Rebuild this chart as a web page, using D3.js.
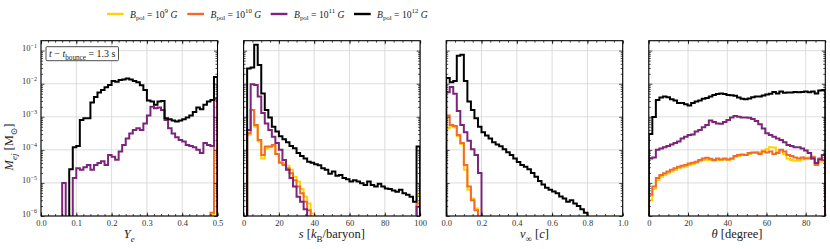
<!DOCTYPE html>
<html>
<head>
<meta charset="utf-8">
<script src="https://cdn.jsdelivr.net/npm/d3@7"></script>
<style>
  body { margin: 0; background: #fff; }
  text { font-family: "Liberation Serif", "DejaVu Serif", serif; }
</style>
</head>
<body>
<svg id="chart" width="830" height="249"></svg>
<script>
// histogram ranges (50 equal bins each)
var yeRange = [0, 0.5],
  sRange = [0, 100],
  vRange = [0, 1],
  thetaRange = [0, 90];

var seriesNames = ["9", "10", "11", "12"];
var seriesColors = ["#ffd200", "#f26b2c", "#7b2479", "#000000"];

// ---- Y_e ----
var yeB9 = [0,0,0,0,0,0,0,0,0,0, 0,0,0,0,0,0,0,0,0,0, 0,0,0,0,0,0,0,0,0,0,
  0,0,0,0,0,0,0,0,0,0, 0,0,0,0,0,0,0,0,1.05e-6,3.3e-3];
var yeB10 = [0,0,0,0,0,0,0,0,0,0, 0,0,0,0,0,0,0,0,0,0, 0,0,0,0,0,0,0,0,0,0,
  0,0,0,0,0,0,0,0,0,0, 0,0,0,0,0,0,0,0,1.25e-6,3.3e-3];
var yeB11 = [0,0,0,0,0,0,1e-5,0,0,1.4e-5, 2.8e-5,2.5e-5,3e-5,3.5e-5,2.5e-5,3.5e-5,4e-5,4.5e-5,3.5e-5,7e-5,
  6.2e-5,5e-5,9e-5,1.4e-4,2.2e-4,3.1e-4,4e-4,4.5e-4,4e-4,6.3e-4,
  1.1e-3,2e-3,1.8e-3,1.9e-3,1.6e-3,8e-4,4.5e-4,3.1e-4,2.4e-4,2e-4,
  1.8e-4,1.4e-4,1.3e-4,1.2e-4,1e-4,8e-5,1.6e-4,1.4e-4,1.3e-4,3.6e-3];
var yeB12 = [0,0,0,0,0,0,0,0,2.6e-5,1.2e-4, 1.3e-4,8e-4,9e-4,9e-4,2.7e-3,4e-3,5.4e-3,6.5e-3,7.8e-3,9.2e-3,
  1.2e-2,1.15e-2,1.3e-2,1.35e-2,1.45e-2,1.35e-2,1.2e-2,1.1e-2,9e-3,6.5e-3,
  3.1e-3,2.9e-3,2.3e-3,2.9e-3,3e-3,9e-4,8.4e-4,7.7e-4,7.2e-4,7.7e-4,
  8.4e-4,9.6e-4,1.1e-3,1.4e-3,1.9e-3,1.7e-3,2.3e-3,2.9e-3,3.2e-3,1.6e-2];

// ---- entropy ----
var sB9 = [0,2.8e-4,1.6e-3,5e-4,1.8e-4,5.5e-5,1.1e-4,1.2e-4,1.3e-4,7.5e-5,
  4.4e-5,3.9e-5,3.3e-5,2.5e-5,1.55e-5,1.1e-5,6.5e-6,3.8e-6,2.4e-6,1.2e-6,
  0,0,0,0,0,0,0,0,0,0, 0,0,0,0,0,0,0,0,0,0, 0,0,0,0,0,0,0,0,0,4.4e-6];
var sB10 = [0,3.2e-4,1.6e-3,5.6e-4,2e-4,7e-5,1.26e-4,1.26e-4,1.4e-4,7.5e-5,
  4.1e-5,3.5e-5,2.8e-5,1.95e-5,1.2e-5,7.8e-6,4.9e-6,2.7e-6,1.5e-6,0,
  0,0,0,0,0,0,0,0,0,0, 0,0,0,0,0,0,0,0,0,0, 0,0,0,0,0,0,0,0,0,2.4e-6];
var sB11 = [0,4e-4,9.6e-3,9.2e-3,4.1e-3,1.3e-3,6.3e-4,4e-4,2.5e-4,1.6e-4,
  1e-4,4.9e-5,2.5e-5,1.4e-5,7.8e-6,3.8e-6,2.7e-6,1.6e-6,0,0,
  0,0,0,0,0,0,0,0,0,0, 0,0,0,0,0,0,0,0,0,0, 0,0,0,0,0,0,0,0,0,1.9e-6];
var sB12 = [0,2.9e-2,3.1e-2,0.15,3.7e-2,5.1e-3,1.6e-3,9.5e-4,5e-4,3.6e-4,
  2.6e-4,2.1e-4,1.7e-4,1.3e-4,1.12e-4,8e-5,6.5e-5,5.5e-5,4.4e-5,4.1e-5,
  3.7e-5,3.4e-5,2.8e-5,2.5e-5,1.9e-5,2.2e-5,1.65e-5,1.75e-5,1.4e-5,1.3e-5,
  1.1e-5,1.2e-5,1.1e-5,9.8e-6,8.6e-6,1.1e-5,8.7e-6,7.8e-6,9.4e-6,7.8e-6,
  6.8e-6,6.5e-6,5.9e-6,5.4e-6,6.2e-6,4.9e-6,4.4e-6,3.8e-6,2.7e-6,1.26e-4];

// ---- asymptotic velocity ----
var vB9 = [4.5e-4,5e-4,4.8e-4,2.6e-4,1.5e-4,2.5e-5,6.2e-6,3.4e-6,1.7e-6,0,
  0,0,0,0,0,0,0,0,0,0, 0,0,0,0,0,0,0,0,0,0, 0,0,0,0,0,0,0,0,0,0, 0,0,0,0,0,0,0,0,0,0];
var vB10 = [1.1e-3,5.6e-4,5.3e-4,2.8e-4,1.6e-4,3.5e-5,7.8e-6,3e-6,1.5e-6,0,
  0,0,0,0,0,0,0,0,0,0, 0,0,0,0,0,0,0,0,0,0, 0,0,0,0,0,0,0,0,0,0, 0,0,0,0,0,0,0,0,0,0];
var vB11 = [5.5e-3,8e-3,5e-3,1.5e-3,5.6e-4,3.4e-4,1.9e-4,1.05e-4,7e-5,2e-5,
  0,0,0,0,0,0,0,0,0,0, 0,0,0,0,0,0,0,0,0,0, 0,0,0,0,0,0,0,0,0,0, 0,0,0,0,0,0,0,0,0,0];
var vB12 = [1.5e-2,1.1e-2,1.2e-2,7e-2,7.5e-2,1.2e-2,2.9e-3,1.6e-3,9e-4,5e-4,
  3.4e-4,2.7e-4,2.2e-4,1.7e-4,1.45e-4,1.28e-4,1.05e-4,8.5e-5,7e-5,5.5e-5,
  4.3e-5,3.5e-5,3.1e-5,2.6e-5,2e-5,1.55e-5,1.15e-5,9e-6,7.2e-6,6.2e-6,
  5.5e-6,4.9e-6,3.9e-6,3.4e-6,2.7e-6,3e-6,2.4e-6,2e-6,1.6e-6,1.25e-6,
  0,0,0,0,0,0,0,0,0,0];

// ---- polar angle ----
var thB9 = [3e-6,6.5e-6,1.2e-5,1.55e-5,1.75e-5,1.95e-5,2.2e-5,2.5e-5,2.8e-5,3e-5,
  3.1e-5,3.5e-5,3.7e-5,4.1e-5,4.5e-5,4.9e-5,5.1e-5,4.9e-5,4.7e-5,4.9e-5,
  4.9e-5,5.1e-5,4.9e-5,5.3e-5,6.2e-5,6.5e-5,7e-5,7e-5,7.5e-5,8e-5,
  8.3e-5,8.3e-5,9.5e-5,1.05e-4,1.2e-4,1.18e-4,9e-5,9.5e-5,7.5e-5,5.5e-5,
  4.9e-5,4.7e-5,4.7e-5,5.1e-5,5.8e-5,5.9e-5,5.5e-5,4.1e-5,4.4e-5,4.4e-5];
var thB10 = [4.4e-6,7.8e-6,1.4e-5,1.75e-5,1.95e-5,2.2e-5,2.5e-5,2.8e-5,3.1e-5,3.3e-5,
  3.5e-5,3.9e-5,4.1e-5,4.4e-5,4.9e-5,5.5e-5,5.8e-5,5.4e-5,4.9e-5,5.5e-5,
  5.1e-5,5.5e-5,5.1e-5,5.5e-5,6.5e-5,7e-5,7.3e-5,7e-5,8e-5,8.3e-5,
  8.3e-5,7.5e-5,9e-5,8.3e-5,9e-5,7.5e-5,8e-5,1e-4,9e-5,7e-5,
  6.5e-5,5.9e-5,5.5e-5,5.9e-5,5.5e-5,5.5e-5,6.2e-5,3.5e-5,5.5e-5,4.9e-5];
var thB11 = [5.5e-5,5.9e-5,1e-4,1.1e-4,1.2e-4,1.3e-4,1.45e-4,1.6e-4,1.8e-4,2.2e-4,
  2.5e-4,2.8e-4,2.9e-4,3.6e-4,4e-4,4.8e-4,5.6e-4,7.7e-4,7e-4,6.3e-4,
  6.2e-4,7e-4,8e-4,9.6e-4,1.05e-3,1e-3,9.6e-4,9.6e-4,9.4e-4,8.6e-4,
  7.4e-4,5.9e-4,4.4e-4,3.2e-4,2.8e-4,2.5e-4,2.2e-4,2e-4,1.7e-4,1.4e-4,
  1.3e-4,1.2e-4,1.2e-4,1.1e-4,9.6e-5,8e-5,5.5e-5,4e-5,5.1e-5,7e-5];
var thB12 = [3e-4,9.8e-4,3.2e-3,3.8e-3,4.1e-3,3.9e-3,3.4e-3,3.1e-3,2.6e-3,2.6e-3,
  2.4e-3,2.2e-3,2.6e-3,2.9e-3,3.1e-3,3.5e-3,3.7e-3,4.1e-3,4.6e-3,4.9e-3,
  5.1e-3,4.9e-3,4.6e-3,4.5e-3,4.3e-3,3.8e-3,3.5e-3,3.4e-3,3.6e-3,3.9e-3,
  4.1e-3,4.1e-3,4.4e-3,4.7e-3,5e-3,5.6e-3,5.1e-3,5.8e-3,5.3e-3,5.4e-3,
  5.4e-3,5.6e-3,5.5e-3,5.6e-3,5.8e-3,5.5e-3,5.8e-3,5.1e-3,6.2e-3,6.5e-3];

// ticks
var yMajor = [1e-6, 1e-5, 1e-4, 1e-3, 1e-2, 1e-1];
var yExp = [-6, -5, -4, -3, -2, -1];

var panels = [
  { range: yeRange, data: [yeB9, yeB10, yeB11, yeB12], major: [0, 0.1, 0.2, 0.3, 0.4, 0.5],
    labels: ["0.0", "0.1", "0.2", "0.3", "0.4", "0.5"], minorStep: 0.02,
    xlabel: [{ t: "Y", i: 1 }, { t: "e", i: 1, sub: 1 }] },
  { range: sRange, data: [sB9, sB10, sB11, sB12], major: [0, 20, 40, 60, 80, 100],
    labels: ["0", "20", "40", "60", "80", "100"], minorStep: 5,
    xlabel: [{ t: "s", i: 1 }, { t: " [" }, { t: "k", i: 1 }, { t: "B", sub: 1 }, { t: "/baryon]" }] },
  { range: vRange, data: [vB9, vB10, vB11, vB12], major: [0, 0.2, 0.4, 0.6, 0.8, 1.0],
    labels: ["0.0", "0.2", "0.4", "0.6", "0.8", "1.0"], minorStep: 0.05,
    xlabel: [{ t: "v", i: 1 }, { t: "∞", sub: 1 }, { t: " [" }, { t: "c", i: 1 }, { t: "]" }] },
  { range: thetaRange, data: [thB9, thB10, thB11, thB12], major: [0, 20, 40, 60, 80],
    labels: ["0", "20", "40", "60", "80"], minorStep: 5,
    xlabel: [{ t: "θ", i: 1 }, { t: " [degree]" }] }
];

var svg = d3.select("#chart");
var lefts = [41, 243.6, 446.2, 648.8],
  pw = 176.5,
  plotTop = 40.7,
  plotBottom = 216,
  ph = plotBottom - plotTop;

var y = d3.scaleLog().domain([1e-6, 0.2]).range([ph, 0]);
var yMinor = [];
yMajor.forEach(function(d) {
  for (var k = 2; k <= 9; k++) if (d * k < 0.2) yMinor.push(d * k);
});

// text with italic / sub / superscript pieces
function rich(sel, parts, fs) {
  var shift = 0;
  parts.forEach(function(p) {
    var target = p.sub ? 0.3 * fs : p.sup ? -0.42 * fs : 0;
    var t = sel.append("tspan").text(p.t).attr("dy", target - shift);
    if (p.sub || p.sup) t.attr("font-size", fs * 0.72);
    if (p.i) t.attr("font-style", "italic");
    shift = target;
  });
}

function stepPoints(x, edges, vals) {
  var below = ph + 8;
  var pts = [[x(edges[0]), below]];
  vals.forEach(function(v, i) {
    var yy = v > 0 ? y(v) : below;
    pts.push([x(edges[i]), yy], [x(edges[i + 1]), yy]);
  });
  pts.push([x(edges[vals.length]), below]);
  return pts;
}

panels.forEach(function(p, pi) {
  var g = svg.append("g").attr("transform", "translate(" + lefts[pi] + "," + plotTop + ")");
  var x = d3.scaleLinear().domain(p.range).range([0, pw]);
  var n = p.data[0].length;
  var edges = d3.range(n + 1).map(function(i) {
    return p.range[0] + (i * (p.range[1] - p.range[0])) / n;
  });
  var xMinor = d3.range(p.range[0], p.range[1] + 1e-9, p.minorStep);

  // grid
  g.append("g").selectAll("line").data(p.major).join("line")
    .attr("x1", x).attr("x2", x).attr("y1", 0).attr("y2", ph)
    .attr("stroke", "#d4d4d4").attr("stroke-width", 0.8);
  g.append("g").selectAll("line").data(yMajor).join("line")
    .attr("x1", 0).attr("x2", pw).attr("y1", y).attr("y2", y)
    .attr("stroke", "#d4d4d4").attr("stroke-width", 0.8);

  // histograms
  var clipId = "clip" + pi;
  g.append("clipPath").attr("id", clipId)
    .append("rect").attr("width", pw).attr("height", ph);
  var line = d3.line();
  p.data.forEach(function(vals, si) {
    g.append("path")
      .attr("clip-path", "url(#" + clipId + ")")
      .attr("d", line(stepPoints(x, edges, vals)))
      .attr("fill", "none")
      .attr("stroke", seriesColors[si])
      .attr("stroke-width", 2)
      .attr("stroke-linejoin", "miter");
  });

  // ticks
  function axis(a, size, vals, fmt) {
    return a.tickValues(vals).tickSize(size).tickPadding(3).tickFormat(fmt || "");
  }
  var xb = g.append("g").attr("transform", "translate(0," + ph + ")")
    .call(axis(d3.axisBottom(x), -3.5, p.major, function(d, i) { return p.labels[i]; }).tickPadding(4));
  g.append("g").attr("transform", "translate(0," + ph + ")").call(axis(d3.axisBottom(x), -2, xMinor));
  g.append("g").call(axis(d3.axisTop(x), -3.5, p.major));
  g.append("g").call(axis(d3.axisTop(x), -2, xMinor));
  var yl = g.append("g").call(axis(d3.axisLeft(y), -3.5, yMajor).tickPadding(4));
  g.append("g").call(axis(d3.axisLeft(y), -2, yMinor));
  g.append("g").attr("transform", "translate(" + pw + ",0)").call(axis(d3.axisRight(y), -3.5, yMajor));
  g.append("g").attr("transform", "translate(" + pw + ",0)").call(axis(d3.axisRight(y), -2, yMinor));
  g.selectAll(".domain").remove();
  g.selectAll(".tick line").attr("stroke", "#000").attr("stroke-width", 0.7);
  g.selectAll("g").attr("font-family", null);
  xb.attr("font-size", 8.5).selectAll("text").attr("fill", "#333");

  if (pi === 0) {
    yl.attr("font-size", 8.5).selectAll("text").attr("fill", "#333").each(function(d, i) {
      var t = d3.select(this).text(null);
      rich(t, [{ t: "10" }, { t: "\u2212" + (-yExp[i]), sup: 1 }], 8.5);
    });
  }

  // frame
  g.append("rect").attr("width", pw).attr("height", ph)
    .attr("fill", "none").attr("stroke", "#000").attr("stroke-width", 1.1);

  // x label
  var xl = g.append("text").attr("x", pw / 2).attr("y", 238 - plotTop)
    .attr("text-anchor", "middle").attr("font-size", 12.5).attr("fill", "#222");
  rich(xl, p.xlabel, 12.5);

  if (pi === 0) {
    g.append("rect").attr("x", 5).attr("y", 6).attr("width", 72.5).attr("height", 14)
      .attr("rx", 1).attr("fill", "#fff").attr("stroke", "#222").attr("stroke-width", 0.8);
    var bt = g.append("text").attr("x", 8).attr("y", 16.5).attr("font-size", 10).attr("fill", "#222");
    rich(bt, [{ t: "t", i: 1 }, { t: " \u2212 " }, { t: "t", i: 1 }, { t: "bounce", sub: 1 },
      { t: " = 1.3 s" }], 10);
  }
});

// y label
var ylab = svg.append("text")
  .attr("transform", "translate(13,147) rotate(-90)")
  .attr("text-anchor", "middle").attr("font-size", 12.5).attr("fill", "#222");
rich(ylab, [{ t: "M", i: 1 }, { t: "ej", i: 1, sub: 1 }, { t: " [M" }, { t: "\u2299", sub: 1 }, { t: "]" }], 12.5);

// legend
var legLine = [107, 187.3, 270.7, 354];
var legText = [130, 210.5, 294, 377];
seriesNames.forEach(function(name, i) {
  svg.append("line").attr("x1", legLine[i]).attr("x2", legLine[i] + 16.7)
    .attr("y1", 14).attr("y2", 14)
    .attr("stroke", seriesColors[i]).attr("stroke-width", 2.4);
  var t = svg.append("text").attr("x", legText[i]).attr("y", 17.5).attr("font-size", 9.6).attr("fill", "#222");
  rich(t, [{ t: "B", i: 1 }, { t: "pol", sub: 1 }, { t: " = 10" }, { t: name, sup: 1 }, { t: " " },
    { t: "G", i: 1 }], 9.6);
});
</script>
</body>
</html>
